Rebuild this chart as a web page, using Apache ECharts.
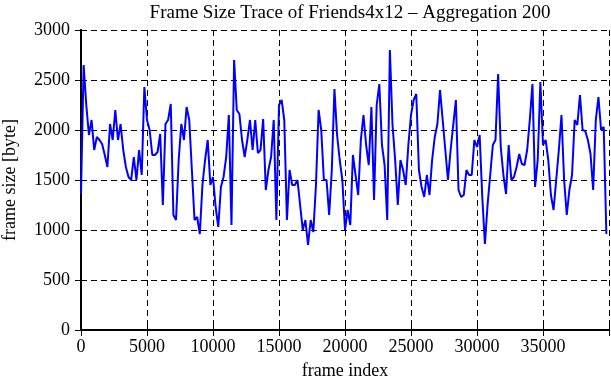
<!DOCTYPE html>
<html>
<head>
<meta charset="utf-8">
<script src="https://cdn.jsdelivr.net/npm/echarts@6/dist/echarts.min.js"></script>
<style>
  html, body { margin: 0; padding: 0; background: #fff; }
  #chart { width: 611px; height: 380px; }
</style>
</head>
<body>
<div id="chart"></div>
<script>
// frame size trace, one value per 200 frames
var aggregation = 200;
var frameSizes = [
  1360, 2650, 2250, 1950, 2100, 1800, 1930, 1900, 1860, 1750, 1630, 2060, 1900, 2200, 1900, 2060, 1800, 1630, 1530, 1500, 1730, 1500, 1800, 1550, 2430,
  2100, 2000, 1750, 1750, 1780, 1960, 1250, 2060, 2100, 2260, 1150, 1100, 1700, 2060, 1900, 2230, 2100, 1600, 1100, 1130, 960, 1450, 1700, 1900, 1450,
  1530, 1230, 1030, 1430, 1530, 1730, 2150, 1050, 2700, 2200, 2160, 1900, 1730, 1900, 2100, 1800, 2100, 1770, 1800, 2110, 1400, 1600, 1730, 2100, 1100,
  2250, 2300, 2100, 1100, 1600, 1450, 1450, 1500, 1250, 1000, 1100, 850, 1100, 980, 1450, 2200, 2000, 1500, 1500, 1150, 1600, 2410, 1950, 1700, 1500,
  1000, 1200, 1050, 1750, 1550, 1350, 1900, 2150, 1850, 1650, 2230, 1300, 2250, 2460, 1850, 1650, 1100, 2800, 2050, 1700, 1250, 1700, 1600, 1450, 1850,
  2150, 2300, 2360, 1600, 1430, 1330, 1550, 1350, 1700, 1930, 2060, 2400, 2100, 1800, 1500, 1800, 2050, 2300, 1400, 1330, 1350, 1600, 1550, 1550, 1900,
  1830, 1950, 1330, 860, 1250, 1550, 1850, 1900, 2560, 1830, 1550, 1360, 1850, 1500, 1530, 1630, 1760, 1660, 1650, 1800, 2100, 2460, 1430, 1700, 2480,
  1850, 1900, 1700, 1350, 1200, 1500, 1800, 2150, 1500, 1150, 1400, 1550, 2100, 2050, 2350, 2000, 1990, 1900, 1760, 1400, 2100, 2330, 2000, 2030, 960
];
var xTicks = [0, 5000, 10000, 15000, 20000, 25000, 30000, 35000];
var yTicks = [0, 500, 1000, 1500, 2000, 2500, 3000];

var font = "'Liberation Serif', 'DejaVu Serif', serif";
var chart = echarts.init(document.getElementById('chart'));

var points = [];
frameSizes.forEach(function (v, i) {
  points.push([i * aggregation, v]);
});

var frameLine = { lineStyle: { color: '#000', width: 2 } };
var innerTick = { show: true, inside: true, length: 6, lineStyle: { color: '#000', width: 1 } };
var gridDash = { show: true, lineStyle: { color: '#000', width: 1, type: [6, 4] } };

var option = {
  animation: false,
  backgroundColor: '#fff',
  title: {
    text: 'Frame Size Trace of Friends4x12 \u2013 Aggregation 200',
    left: 345,
    textAlign: 'center',
    top: -1,
    textStyle: { fontFamily: font, fontSize: 19, fontWeight: 'normal', color: '#000' }
  },
  grid: { left: 81, right: 2, top: 30, bottom: 50, outerBoundsMode: 'none' },
  xAxis: [
    {
      type: 'value', position: 'bottom', min: 0, max: 40000, interval: 5000,
      axisLine: frameLine, axisTick: innerTick, splitLine: gridDash,
      axisLabel: {
        color: '#000', fontFamily: font, fontSize: 18, margin: 8,
        formatter: function (v) { return xTicks.indexOf(v) >= 0 ? String(v) : ''; }
      },
      name: 'frame index', nameLocation: 'middle', nameGap: 32,
      nameTextStyle: { color: '#000', fontFamily: font, fontSize: 18 }
    },
    {
      type: 'value', position: 'top', min: 0, max: 40000, interval: 5000,
      axisLine: frameLine, axisTick: innerTick, axisLabel: { show: false }, splitLine: { show: false }
    }
  ],
  yAxis: [
    {
      type: 'value', position: 'left', min: 0, max: 3000, interval: 500,
      axisLine: frameLine, axisTick: innerTick, splitLine: gridDash,
      axisLabel: {
        color: '#000', fontFamily: font, fontSize: 18, margin: 11,
        formatter: function (v) { return yTicks.indexOf(v) >= 0 ? String(v) : ''; }
      },
      name: 'frame size [byte]', nameLocation: 'middle', nameGap: 62,
      nameTextStyle: { color: '#000', fontFamily: font, fontSize: 18 }
    },
    {
      type: 'value', position: 'right', min: 0, max: 3000, interval: 500,
      axisLine: frameLine, axisTick: innerTick, axisLabel: { show: false }, splitLine: { show: false }
    }
  ],
  series: [
    {
      type: 'line',
      xAxisIndex: 0,
      yAxisIndex: 0,
      data: points,
      showSymbol: false,
      lineStyle: { color: '#0000ff', width: 2 }
    }
  ]
};
chart.setOption(option);
</script>
</body>
</html>
